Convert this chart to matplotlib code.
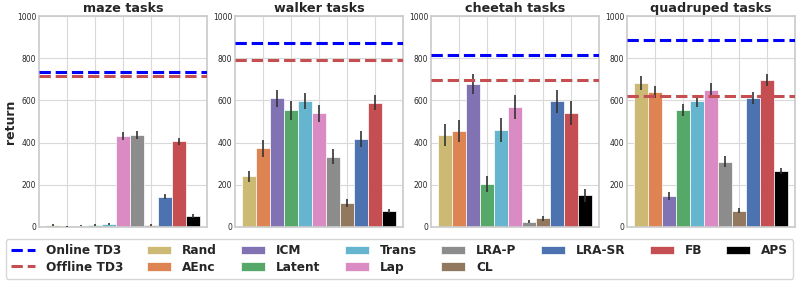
import matplotlib
matplotlib.use("Agg")
import matplotlib.pyplot as plt
import seaborn as sns
import numpy as np

sns.set_theme(style="whitegrid")
plt.rcParams['font.family'] = ['DejaVu Sans']

tasks = ["maze tasks", "walker tasks", "cheetah tasks", "quadruped tasks"]
methods = ["Rand", "AEnc", "ICM", "Latent", "Trans", "Lap", "LRA-P", "CL", "LRA-SR", "FB", "APS"]
colors = ["#CCB974", "#DD8452", "#8172B3", "#55A868", "#64B5CD", "#DA8BC3",
          "#8C8C8C", "#937860", "#4C72B0", "#C44E52", "#000000"]

online_td3 = [733, 874, 815, 886]
offline_td3 = [718, 793, 699, 620]

maze_vals = [10, 4, 6, 9, 15, 431, 435, 10, 144, 407, 52]
maze_err = [5, 2, 3, 4, 6, 19, 18, 3, 13, 17, 10]
walker_vals = [240, 374, 610, 554, 595, 538, 334, 114, 416, 590, 76]
walker_err = [25, 40, 40, 45, 38, 38, 37, 20, 37, 37, 11]
cheetah_vals = [437, 454, 678, 205, 460, 568, 25, 41, 595, 540, 150]
cheetah_err = [51, 51, 49, 39, 55, 58, 8, 12, 55, 55, 30]
quad_vals = [683, 640, 147, 555, 598, 648, 309, 76, 612, 696, 265]
quad_err = [32, 30, 18, 27, 28, 33, 27, 12, 30, 27, 14]

all_vals = [maze_vals, walker_vals, cheetah_vals, quad_vals]
all_err = [maze_err, walker_err, cheetah_err, quad_err]

fig = plt.figure(figsize=(7.99, 2.88), dpi=100)
lefts = [39, 235, 431, 627]
W, H = 799, 288
ax_w = 168
top_px, bot_px = 16, 227

handles = []
for i, task in enumerate(tasks):
    ax = fig.add_axes([lefts[i] / W, 1 - bot_px / H, ax_w / W, (bot_px - top_px) / H])
    x = np.arange(len(methods))
    bars = ax.bar(x, all_vals[i], width=1.0, color=colors, edgecolor="white",
                  linewidth=0.5, zorder=2)
    ax.errorbar(x, all_vals[i], yerr=all_err[i], fmt="none", ecolor="#333333",
                elinewidth=1.2, capsize=0, zorder=3)
    l1 = ax.axhline(online_td3[i], color="blue", ls="--", lw=2.2, zorder=4)
    l2 = ax.axhline(offline_td3[i], color="#C44E52", ls="--", lw=2.2, zorder=4)
    ax.set_xlim(-1, 11)
    ax.set_ylim(0, 1000)
    ax.set_xticks([1, 3, 5, 7, 9])
    ax.set_xticklabels([])
    ax.tick_params(axis="x", length=0)
    ax.set_yticks([0, 200, 400, 600, 800, 1000])
    ax.tick_params(axis="y", labelsize=5.5, pad=2, length=0, labelcolor=".15")
    ax.grid(True, color=".85", lw=0.8)
    ax.set_axisbelow(True)
    for s in ax.spines.values():
        s.set_color(".8")
    ax.set_title(task, fontsize=9.2, fontweight="bold", color=".15", pad=3)
    if i == 0:
        ax.set_ylabel("return", fontsize=9, fontweight="bold", color=".15", labelpad=0)
        handles = [l1, l2] + list(bars)

labels = ["Online TD3", "Offline TD3"] + methods
leg = fig.legend(handles, labels, ncol=8, loc="lower center",
                 bbox_to_anchor=(0.5, 0.012), frameon=True,
                 prop={"weight": "bold", "size": 8.7},
                 handlelength=2.0, columnspacing=2.0, handletextpad=0.9,
                 labelspacing=0.3, borderpad=0.4)
leg.get_frame().set_edgecolor(".8")
for t in leg.get_texts():
    t.set_color(".15")

fig.savefig("out.png", dpi=100)
